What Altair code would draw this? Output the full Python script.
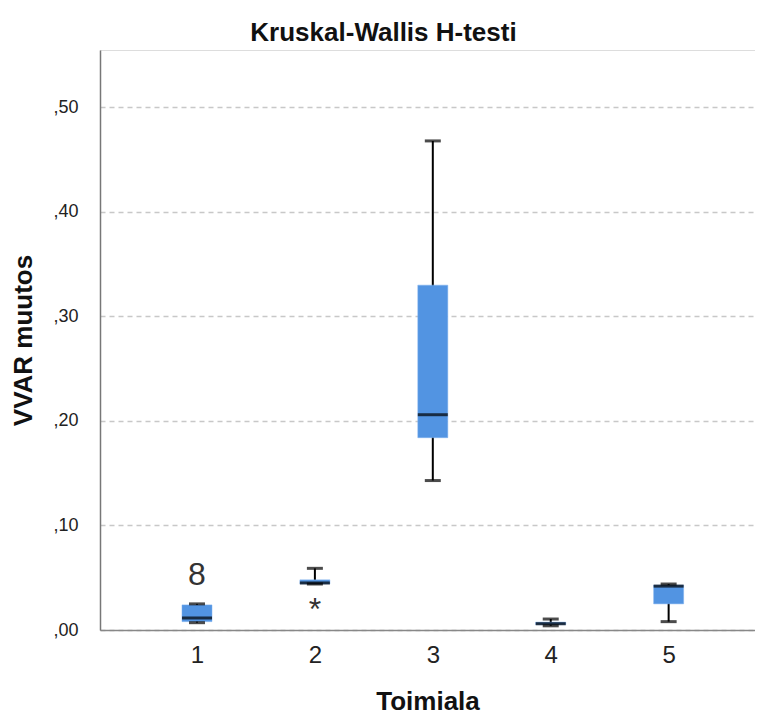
import altair as alt
import pandas as pd

groups = [1, 2, 3, 4, 5]
whisk_lo = [0.007, 0.044, 0.143, 0.004, 0.008]
q1 = [0.008, 0.044, 0.184, 0.005, 0.025]
median = [0.0115, 0.045, 0.206, 0.006, 0.042]
q3 = [0.024, 0.048, 0.330, 0.0075, 0.043]
whisk_hi = [0.025, 0.059, 0.468, 0.0105, 0.044]

out_group = [1, 2]
out_value = [0.053, 0.019]
out_label = ["8", "*"]

df = pd.DataFrame({"g": groups, "lo": whisk_lo, "q1": q1, "med": median,
                   "q3": q3, "hi": whisk_hi})
odf = pd.DataFrame({"g": out_group, "v": out_value, "lab": out_label})

FONT = "Liberation Sans"
xscale = alt.Scale(domain=[0.22, 5.69], nice=False, zero=False)
yscale = alt.Scale(domain=[0, 0.555], nice=False)

xaxis = alt.Axis(values=groups, format="d", title="Toimiala", grid=False, ticks=False,
                 labelFontSize=24, labelColor="#222", labelFont=FONT,
                 labelPadding=13, titleFont=FONT, titleFontSize=26,
                 titleFontWeight="bold", titleColor="#111", titlePadding=21,
                 domainColor="#888", domainWidth=1.5)
yaxis = alt.Axis(values=[0, 0.1, 0.2, 0.3, 0.4, 0.5], title="VVAR muutos",
                 labelExpr="replace(format(datum.value, '.2f'), '0.', ',')",
                 grid=True, gridDash=[5, 4], gridColor="#c8c8c8", gridWidth=1.5,
                 ticks=False, labelFontSize=18, labelColor="#222", labelFont=FONT,
                 labelPadding=22, titleFont=FONT, titleFontSize=26,
                 titleFontWeight="bold", titleColor="#111", titlePadding=16,
                 domainColor="#777", domainWidth=1.5)

base = alt.Chart(df)

whisk = base.mark_rule(color="black", strokeWidth=2).encode(
    x=alt.X("g:Q", scale=xscale, axis=xaxis),
    y=alt.Y("lo:Q", scale=yscale, axis=yaxis),
    y2="hi:Q")

box = base.mark_bar(size=30, color="#5294E2", stroke="#7fb0ee", strokeWidth=0.5).encode(
    x="g:Q", y="q1:Q", y2="q3:Q")

med = base.mark_tick(orient="horizontal", size=30, thickness=3, color="black").encode(
    x="g:Q", y="med:Q")

cap_lo = base.mark_tick(orient="horizontal", size=16, thickness=3, color="black").encode(
    x="g:Q", y="lo:Q")
cap_hi = base.mark_tick(orient="horizontal", size=16, thickness=3, color="black").encode(
    x="g:Q", y="hi:Q")

outl = alt.Chart(odf).mark_text(font=FONT, fontSize=32, color="#333",
                                baseline="middle", align="center").encode(
    x="g:Q", y="v:Q", text="lab:N")

chart = alt.layer(whisk, box, med, cap_lo, cap_hi, outl).properties(
    width=655, height=580,
    title=alt.TitleParams("Kruskal-Wallis H-testi", font=FONT, fontSize=26,
                          fontWeight="bold", color="#111", anchor="middle",
                          dx=-44, offset=4),
    autosize=alt.AutoSizeParams(type="none"),
    padding={"left": 92, "top": 42, "right": 0, "bottom": 87},
).configure_view(stroke=None).configure(background="white")

chart.save("out.html", embed_options={"renderer": "svg", "actions": False})
